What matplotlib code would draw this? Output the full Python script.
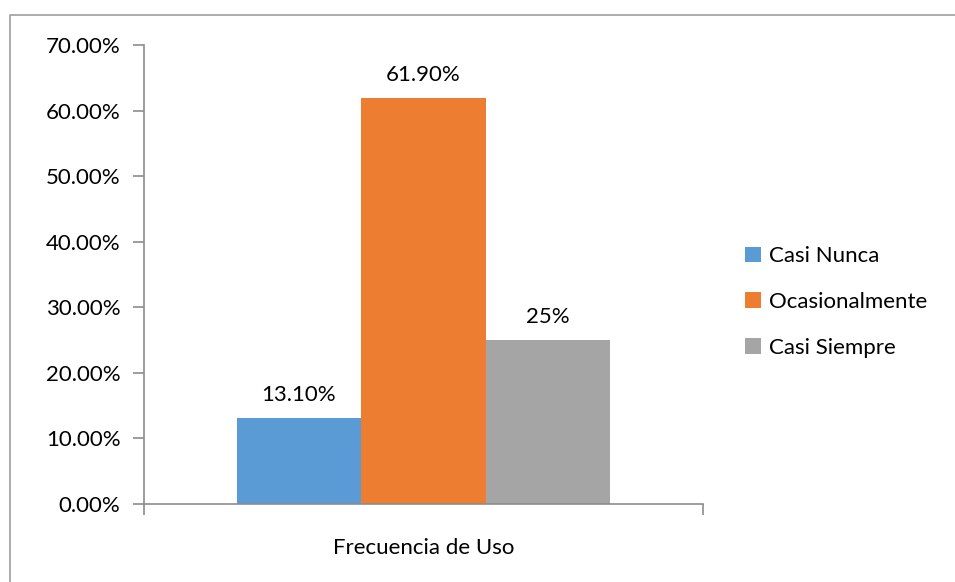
import matplotlib.pyplot as plt
from matplotlib.lines import Line2D

plt.rcParams['font.family'] = ['Lato', 'DejaVu Sans']

# data
series = ['Casi Nunca', 'Ocasionalmente', 'Casi Siempre']
values = [13.10, 61.90, 25.0]
labels = ['13.10%', '61.90%', '25%']
colors = ['#5b9bd5', '#ed7d31', '#a5a5a5']
category = 'Frecuencia de Uso'

fig = plt.figure(figsize=(9.55, 5.82), dpi=100)
# chart area border (only top and left edges fall inside the picture)
fig.lines.append(Line2D([10 / 955, 10 / 955, 1], [0, 1 - 15 / 582, 1 - 15 / 582],
                        transform=fig.transFigure, color='#a6a6a6', linewidth=1.3))

ax = fig.add_axes([144 / 955, 1 - 504 / 582, 559 / 955, 459 / 582])
w = 0.223
for i, (s, v, lab, c) in enumerate(zip(series, values, labels, colors)):
    x = (i - 1) * w
    ax.bar(x, v, width=w, color=c, label=s)
    ax.text(x, v + 2.0, lab, ha='center', va='bottom', fontsize=16, color='#000000')

ax.set_xlim(-0.5, 0.5)
ax.set_ylim(0, 70)
ax.set_yticks(range(0, 71, 10))
ax.set_yticklabels([f'{t:.2f}%' for t in range(0, 71, 10)], fontsize=16)
ax.set_xticks([-0.5, 0.5])
ax.set_xticklabels(['', ''])
ax.tick_params(axis='both', direction='out', length=8, width=1.2, color='#8c8c8c', pad=9)
ax.text(0, -0.075, category, transform=ax.get_xaxis_transform(), ha='center', va='top', fontsize=16)

for side in ['top', 'right']:
    ax.spines[side].set_visible(False)
for side in ['left', 'bottom']:
    ax.spines[side].set_color('#8c8c8c')
    ax.spines[side].set_linewidth(1.2)

ax.legend(loc='center left', bbox_to_anchor=(1.06, 0.44), frameon=False, fontsize=16,
          handlelength=0.7, handleheight=0.7, handletextpad=0.35, labelspacing=1.15,
          borderaxespad=0)

fig.savefig('out.png', dpi=100)
